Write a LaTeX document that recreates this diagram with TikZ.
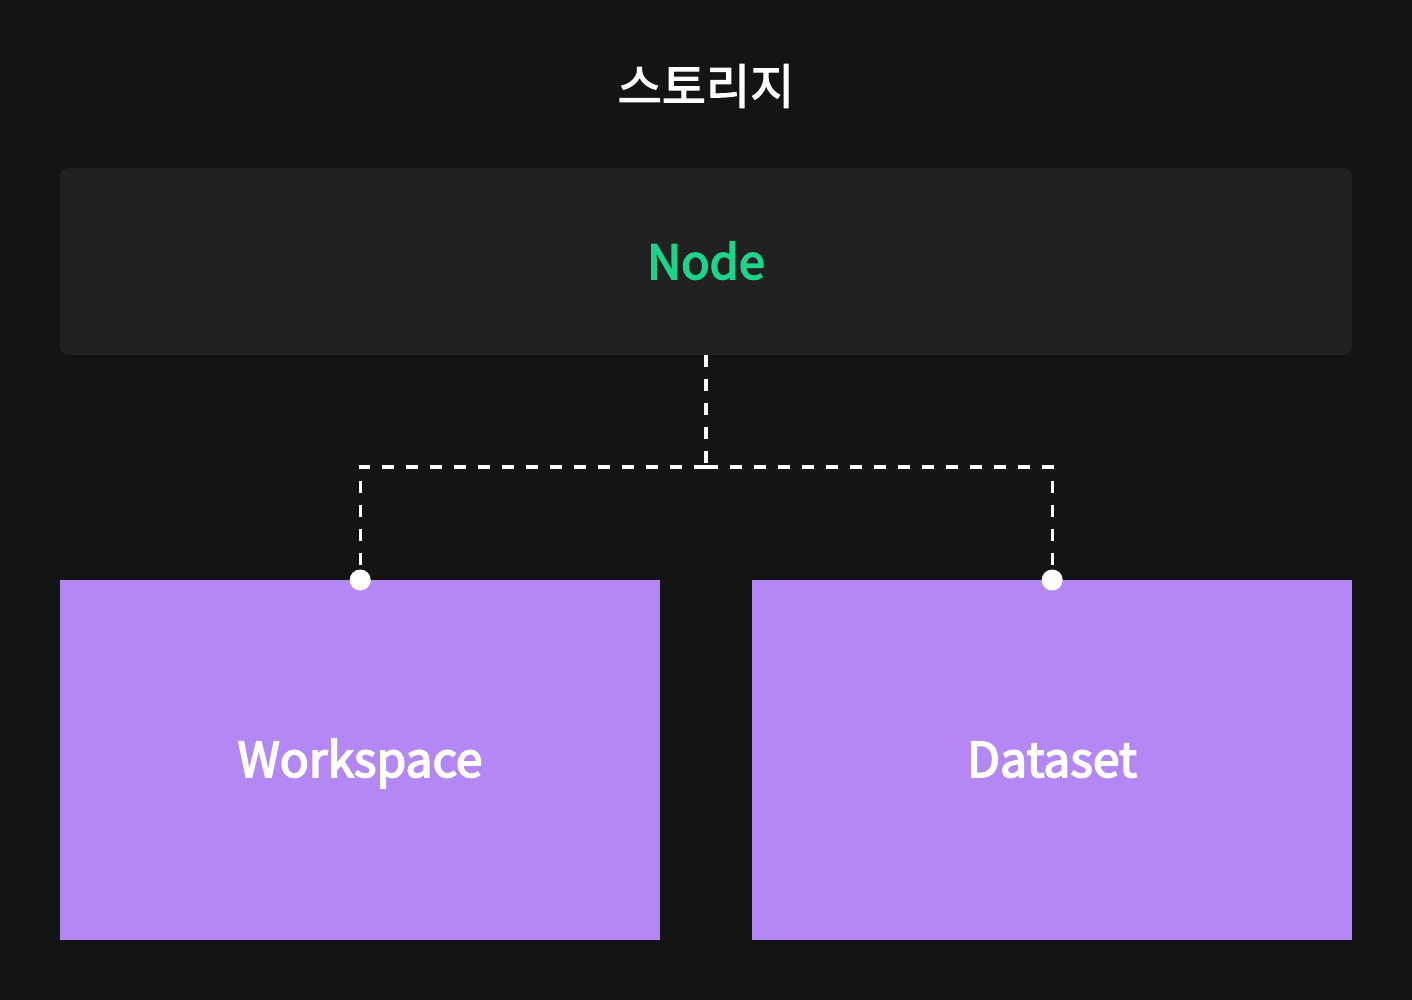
\documentclass[tikz,border=0pt]{standalone}
\usepackage{fontspec}
\setmainfont{Noto Sans CJK KR}
\newfontfamily\medfont[FakeBold=3.5]{Noto Sans CJK KR}
\newfontfamily\titlefont[FakeBold=2.5]{Noto Sans CJK KR}
\begin{document}
\begin{tikzpicture}[x=1pt,y=-1pt,
  panel/.style={fill=panelc, rounded corners=9pt, draw=none},
  purplebox/.style={fill=purp, draw=none},
  lbl/.style={font=\medfont\fontsize{48}{52}\selectfont, text=white, anchor=base},
  link/.style={draw=white, line width=3.2pt, dash pattern=on 12pt off 12pt},
  dotc/.style={circle, fill=white, minimum size=21pt, inner sep=0pt}]
\definecolor{bg}{HTML}{141414}
\definecolor{panelc}{HTML}{212121}
\definecolor{purp}{HTML}{B388F5}
\definecolor{grn}{HTML}{1BD68A}
\fill[bg] (0,0) rectangle (1412,1000);
\useasboundingbox (0,0) rectangle (1412,1000);
\node[font=\titlefont\fontsize{48}{52}\selectfont, text=white] (title) at (706,86) {스토리지};
\node[panel, minimum width=1292pt, minimum height=187pt] (top) at (706,261.5) {};
\node[font=\medfont\fontsize{47}{50}\selectfont, text=grn, anchor=base] (nodelbl) at (706,279) {Node};
\node[purplebox, minimum width=600pt, minimum height=360pt, anchor=north west] (ws) at (60,580) {};
\node[purplebox, minimum width=600pt, minimum height=360pt, anchor=north west] (ds) at (752,580) {};
\node[lbl] (wslbl) at (360,777) {Workspace};
\node[lbl] (dslbl) at (1052,777) {Dataset};
\coordinate (wsT) at (ws.north);
\coordinate (dsT) at (ds.north);
\coordinate (mid) at (706,467);
\draw[link] (top.south) -- (mid);
\draw[link] (mid) -- (mid -| wsT) -- (wsT);
\draw[link] (mid) -- (mid -| dsT) -- (dsT);
\node[dotc] (d1) at (wsT) {};
\node[dotc] (d2) at (dsT) {};
\end{tikzpicture}
\end{document}
